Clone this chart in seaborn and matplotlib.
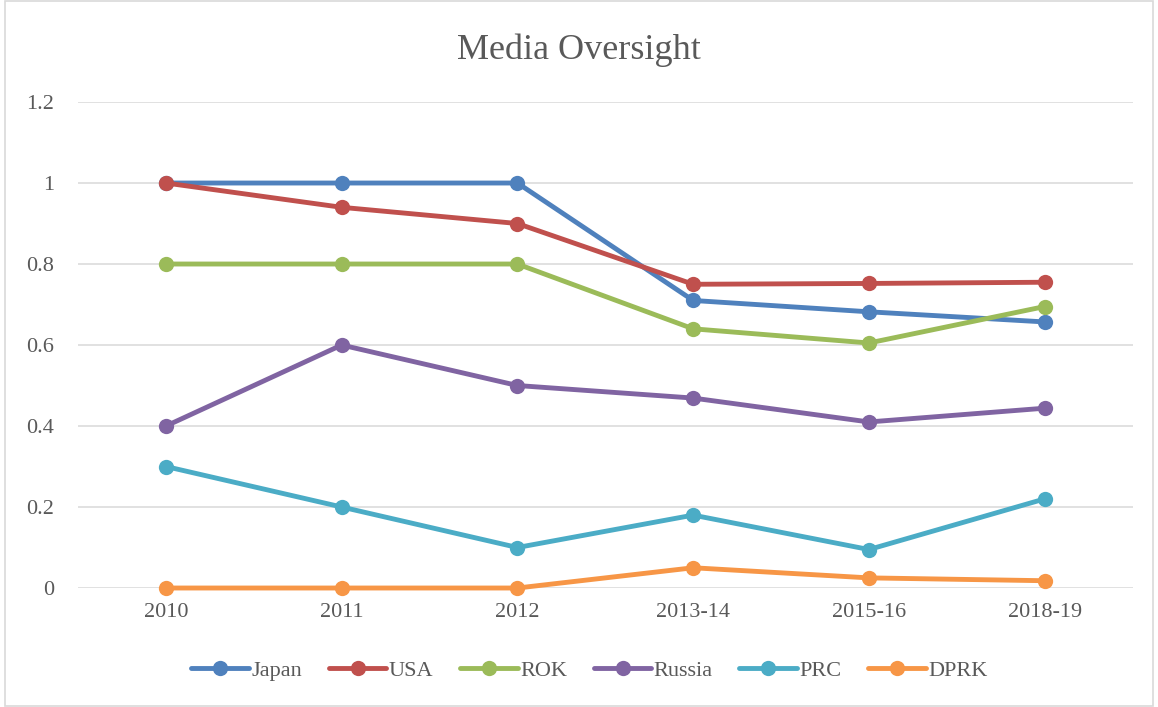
import numpy as np
import pandas as pd
import matplotlib.pyplot as plt
import matplotlib.patches as mpatches
import seaborn as sns

# ── data ──────────────────────────────────────────────────────────────────────
periods = ["2010", "2011", "2012", "2013-14", "2015-16", "2018-19"]
japan  = [1.00, 1.00, 1.00, 0.710, 0.682, 0.657]
usa    = [1.00, 0.94, 0.90, 0.750, 0.752, 0.755]
rok    = [0.80, 0.80, 0.80, 0.640, 0.605, 0.695]
russia = [0.40, 0.60, 0.50, 0.469, 0.410, 0.444]
prc    = [0.30, 0.20, 0.10, 0.180, 0.095, 0.220]
dprk   = [0.00, 0.00, 0.00, 0.050, 0.025, 0.018]

countries = ["Japan", "USA", "ROK", "Russia", "PRC", "DPRK"]
colors = ["#4F81BD", "#C0504D", "#9BBB59", "#8064A2", "#4BACC6", "#F79646"]

df = pd.DataFrame({"Japan": japan, "USA": usa, "ROK": rok,
                   "Russia": russia, "PRC": prc, "DPRK": dprk}, index=periods)
long = df.reset_index(names="period").melt(id_vars="period", var_name="country",
                                           value_name="score")

# ── plot ──────────────────────────────────────────────────────────────────────
sns.set_theme(style="white")
plt.rcParams["font.family"] = ["Liberation Serif", "DejaVu Serif"]

fig = plt.figure(figsize=(11.58, 7.07), dpi=100)
ax = fig.add_axes([0.0674, 0.1683, 0.9106, 0.6874])

sns.lineplot(data=long, x="period", y="score", hue="country",
             hue_order=countries, palette=colors, sort=False,
             marker="o", markersize=11, markeredgewidth=0,
             linewidth=3.5, ax=ax, legend=False, clip_on=False)

ax.set_xlim(-0.5, len(periods) - 0.5)
ax.set_ylim(0, 1.2)
ax.set_yticks([0, 0.2, 0.4, 0.6, 0.8, 1.0, 1.2])
ax.set_yticklabels(["0", "0.2", "0.4", "0.6", "0.8", "1", "1.2"])
ax.yaxis.grid(True, color="#D9D9D9", linewidth=1.1, zorder=0)
ax.xaxis.grid(False)
ax.set_axisbelow(True)
for s in ax.spines.values():
    s.set_visible(False)
ax.tick_params(axis="both", length=0, labelsize=16, labelcolor="#595959")
ax.tick_params(axis="x", pad=11)
ax.tick_params(axis="y", pad=17)
ax.set_xlabel("")
ax.set_ylabel("")

fig.text(0.5, 0.929, "Media Oversight", ha="center", va="center",
         fontsize=26, color="#595959")

handles = [plt.Line2D([], [], color=c, linewidth=3.5, marker="o",
                      markersize=11, markeredgewidth=0) for c in colors]
fig.legend(handles, countries, loc="center", bbox_to_anchor=(0.509, 0.052),
           ncol=6, frameon=False, fontsize=16, handlelength=2.6,
           handletextpad=0.1, columnspacing=1.2, labelcolor="#595959")

fig.patches.append(mpatches.Rectangle((0.004, 0.002), 0.992, 0.996,
                                      transform=fig.transFigure, fill=False,
                                      edgecolor="#D9D9D9", linewidth=1.2))

fig.savefig("out.png", dpi=100, facecolor="white")
